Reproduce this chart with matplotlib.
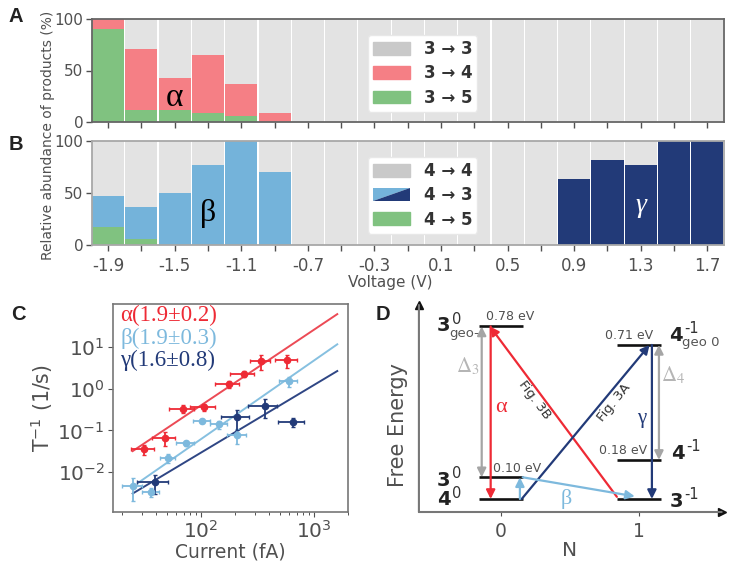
import matplotlib
matplotlib.use("Agg")
import matplotlib.pyplot as plt
from matplotlib.legend_handler import HandlerBase
from matplotlib.patches import Patch, Polygon

W, H = 736, 567

# panels A and B
voltage = [-1.9, -1.7, -1.5, -1.3, -1.1, -0.9, -0.7, -0.5, -0.3, -0.1,
           0.1, 0.3, 0.5, 0.7, 0.9, 1.1, 1.3, 1.5, 1.7]
voltage_ticks = [-1.9, -1.5, -1.1, -0.7, -0.3, 0.1, 0.5, 0.9, 1.3, 1.7]
a_green = [90, 12, 12, 9, 6, 0, 0, 0, 0, 0, 0, 0, 0, 0, 0, 0, 0, 0, 0]
a_red = [10, 59, 31, 56, 31, 9, 0, 0, 0, 0, 0, 0, 0, 0, 0, 0, 0, 0, 0]
b_green = [17, 6, 0, 0, 0, 0, 0, 0, 0, 0, 0, 0, 0, 0, 0, 0, 0, 0, 0]
b_light = [30, 31, 50, 77, 100, 70, 0, 0, 0, 0, 0, 0, 0, 0, 0, 0, 0, 0, 0]
b_dark = [0, 0, 0, 0, 0, 0, 0, 0, 0, 0, 0, 0, 0, 0, 63, 82, 77, 100, 100]

# panel C
alpha_x = [31, 47.7, 69, 106, 175, 239, 340, 581]
alpha_xerr = [7, 11, 17, 26, 42, 58, 70, 130]
alpha_y = [0.036, 0.067, 0.325, 0.363, 1.26, 2.27, 4.55, 4.8]
alpha_yerr = [0.01, 0.025, 0.07, 0.07, 0.25, 0.4, 1.8, 1.7]
beta_x = [25, 36, 51, 73, 102, 145, 208, 597]
beta_xerr = [5, 6, 8, 13, 18, 26, 40, 110]
beta_y = [0.0046, 0.0034, 0.022, 0.05, 0.171, 0.14, 0.078, 1.49]
beta_yerr = [0.0025, 0.0008, 0.005, 0.007, 0.02, 0.03, 0.03, 0.4]
gamma_x = [39, 209, 368, 647]
gamma_xerr = [12, 58, 105, 170]
gamma_y = [0.0058, 0.205, 0.377, 0.159]
gamma_yerr = [0.0028, 0.1, 0.18, 0.04]
fit_x = [24.8, 1607]
alpha_fit = [0.032, 60]
beta_fit_x = [27.5, 1607]
beta_fit = [0.0055, 11.4]
gamma_fit = [0.0031, 2.62]

# panel D, energies in eV
levels_n0 = [0.0, 0.10, 0.795]
levels_n1 = [0.0, 0.18, 0.71]

GREY = "#e3e3e3"
LEG_GREY = "#c9c9c9"
GREEN = "#80c280"
PINK = "#f57f85"
LIGHT = "#74b3da"
NAVY = "#223a78"
RED = "#ee2a35"
TXT = "#505050"
SERIF = ["Liberation Serif", "DejaVu Serif"]


def add_axes(fig, left, top, right, bottom):
    return fig.add_axes([left / W, 1 - bottom / H, (right - left) / W, (bottom - top) / H])


class SplitHandler(HandlerBase):
    def create_artists(self, legend, orig, xd, yd, w, h, fontsize, trans):
        x0, y0 = -xd, -yd
        lo = Polygon([(x0, y0), (x0, y0 + h), (x0 + w, y0 + h)], fc=LIGHT, ec="none", transform=trans)
        up = Polygon([(x0, y0), (x0 + w, y0), (x0 + w, y0 + h)], fc=NAVY, ec="none", transform=trans)
        return [lo, up]


def style_bar_axes(ax, spine):
    ax.set_xlim(-2.0, 1.8)
    ax.set_ylim(0, 100)
    ax.set_yticks([0, 50, 100])
    ax.set_xticks(voltage, minor=False)
    ax.tick_params(axis="y", labelsize=11, colors=TXT, length=4, width=1, pad=2)
    ax.tick_params(axis="x", colors=TXT, length=4, width=1)
    for s in ax.spines.values():
        s.set_color(spine)
        s.set_linewidth(1.3)


def add_legend(ax, handles, labels, y_top, **kw):
    return ax.legend(handles, labels, loc="upper left",
                     bbox_to_anchor=(368 / W, 1 - y_top / H), bbox_transform=ax.figure.transFigure,
                     borderaxespad=0, prop={"weight": "bold", "size": 12}, labelcolor="#333333",
                     handlelength=2.2, handleheight=0.8, handletextpad=0.84, labelspacing=0.38,
                     borderpad=0.3, framealpha=1, fancybox=True, edgecolor="#e8e8e8", **kw)


def level_label(ax, n, e, digit, sup, sub=None):
    ax.text(n, e, digit, fontsize=14, fontweight="bold", color="#222222", ha="left", va="baseline")
    ax.text(n + 0.108, e + 0.036, sup, fontsize=10.5, color="#333333", ha="left", va="baseline")
    if sub:
        ax.text(n + 0.09, e - 0.024, sub, fontsize=9.5, color="#555555", ha="left", va="baseline")


def arrow(ax, start, end, color, style="-|>", lw=1.6):
    ax.annotate("", xy=end, xytext=start,
                arrowprops=dict(arrowstyle=style, color=color, lw=lw, shrinkA=0, shrinkB=0,
                                mutation_scale=13))


def main():
    fig = plt.figure(figsize=(W / 100, H / 100), dpi=100)

    # A
    ax = add_axes(fig, 91.5, 19, 724, 122)
    ax.bar(voltage, [100] * 19, width=0.193, color=GREY)
    ax.bar(voltage, a_green, width=0.193, color=GREEN)
    ax.bar(voltage, a_red, width=0.193, bottom=a_green, color=PINK)
    style_bar_axes(ax, "#666666")
    ax.set_xticklabels([])
    ax.text(-1.5, 24, "α", fontsize=24, family=SERIF, color="black", ha="center", va="center")
    add_legend(ax, [Patch(color=LEG_GREY), Patch(color=PINK), Patch(color=GREEN)],
               ["3 → 3", "3 → 4", "3 → 5"], 35)

    # B
    ax = add_axes(fig, 91.5, 141, 724, 245)
    ax.bar(voltage, [100] * 19, width=0.193, color=GREY)
    ax.bar(voltage, b_green, width=0.193, color=GREEN)
    ax.bar(voltage, b_light, width=0.193, bottom=b_green, color=LIGHT)
    ax.bar(voltage, b_dark, width=0.193, color=NAVY)
    style_bar_axes(ax, "#a8a8a8")
    ax.set_xticks(voltage_ticks)
    ax.set_xticks(voltage, minor=True)
    ax.tick_params(axis="x", which="minor", colors=TXT, length=4, width=1)
    ax.tick_params(axis="x", labelsize=12, pad=5)
    ax.set_xticklabels([f"{v:.1f}" for v in voltage_ticks])
    ax.text(-1.3, 30, "β", fontsize=23, family=SERIF, color="black", ha="center", va="center")
    ax.text(1.3, 38, "γ", fontsize=20, family=SERIF, style="italic", color="white", ha="center", va="center")
    split = Patch()
    add_legend(ax, [Patch(color=LEG_GREY), split, Patch(color=GREEN)], ["4 → 4", "4 → 3", "4 → 5"], 157,
               handler_map={split: SplitHandler()})

    fig.text(48 / W, 1 - 135 / H, "Relative abundance of products (%)", rotation=90,
             fontsize=10, color=TXT, ha="center", va="center")
    fig.text(390 / W, 1 - 283 / H, "Voltage (V)", fontsize=11, color=TXT, ha="center", va="center")

    # C
    ax = add_axes(fig, 113, 304, 348, 512)
    ax.set_xscale("log")
    ax.set_yscale("log")
    ax.plot(fit_x, alpha_fit, color="#ec4a55", lw=1.4)
    ax.plot(beta_fit_x, beta_fit, color="#86c0e0", lw=1.4)
    ax.plot(fit_x, gamma_fit, color="#2f4684", lw=1.4)
    for xs, ys, xe, ye, col in [(beta_x, beta_y, beta_xerr, beta_yerr, "#7db9dd"),
                                (gamma_x, gamma_y, gamma_xerr, gamma_yerr, NAVY),
                                (alpha_x, alpha_y, alpha_xerr, alpha_yerr, RED)]:
        ax.errorbar(xs, ys, xerr=xe, yerr=ye, fmt="o", ms=4.5, color=col, elinewidth=1.3, capsize=1.2)
    ax.set_xlim(16.6, 2000)
    ax.set_ylim(10 ** -2.95, 10 ** 2.02)
    ax.set_yticks([0.01, 0.1, 1, 10])
    ax.minorticks_off()
    ax.set_xticks([20, 30, 40, 50, 60, 70, 80, 90, 200, 300, 400, 500, 600, 700, 800, 900, 2000], minor=True)
    ax.tick_params(axis="x", which="minor", length=2, width=0.7, labelbottom=False, colors=TXT)
    ax.tick_params(axis="both", which="major", labelsize=14.5, colors=TXT, length=3.5, pad=2.5)
    for s in ax.spines.values():
        s.set_color("#777777")
        s.set_linewidth(1.2)
    ax.set_xlabel("Current (fA)", fontsize=13.5, color=TXT, labelpad=0)
    ax.set_ylabel("T$^{-1}$ (1/s)", fontsize=14.8, color=TXT, labelpad=2)
    for y, label, col in [(0.945, "α(1.9±0.2)", RED), (0.836, "β(1.9±0.3)", "#7db9dd"),
                          (0.728, "γ(1.6±0.8)", NAVY)]:
        ax.text(0.03, y, label, transform=ax.transAxes, fontsize=16.5, family=SERIF, color=col,
                ha="left", va="center")

    # D
    ax = add_axes(fig, 417.7, 305, 721.7, 512)
    ax.set_xlim(-0.604, 1.6)
    ax.set_ylim(-0.06, 0.894)
    ax.set_xticks([0, 1])
    ax.set_yticks([])
    ax.tick_params(axis="x", labelsize=13.5, colors=TXT, length=3, pad=4)
    for s in ax.spines.values():
        s.set_visible(False)
    ax.patch.set_alpha(0)
    ax.annotate("", xy=(1.0, 0), xytext=(0.004, 0), xycoords="axes fraction",
                arrowprops=dict(arrowstyle="-", color="#777777", lw=1.5, shrinkA=0, shrinkB=0))
    ax.annotate("", xy=(0.004, 1.0), xytext=(0.004, 0), xycoords="axes fraction",
                arrowprops=dict(arrowstyle="-", color="#777777", lw=1.5, shrinkA=0, shrinkB=0))
    ax.plot([1.0], [0], ">", color="#111111", ms=6, transform=ax.transAxes, clip_on=False)
    ax.plot([0.004], [1.0], "^", color="#111111", ms=6, transform=ax.transAxes, clip_on=False)
    ax.set_xlabel("N", fontsize=14.5, color=TXT, labelpad=0)
    fig.text(398 / W, 1 - 425 / H, "Free Energy", rotation=90, fontsize=15, color=TXT, ha="center", va="center")

    ax.hlines(levels_n0, -0.16, 0.16, color="#111111", lw=1.9)
    ax.hlines(levels_n1, 0.84, 1.16, color="#111111", lw=1.9)

    arrow(ax, (-0.14, 0.795), (-0.14, 0.10), "#a5a5a5", "<|-|>")
    arrow(ax, (1.145, 0.71), (1.145, 0.18), "#a5a5a5", "<|-|>")
    arrow(ax, (-0.075, 0.795), (-0.075, 0.0), RED)
    arrow(ax, (0.84, 0.01), (-0.08, 0.795), RED)
    arrow(ax, (0.15, 0.0), (1.077, 0.71), NAVY)
    arrow(ax, (1.094, 0.71), (1.094, 0.0), NAVY)
    arrow(ax, (0.137, 0.0), (0.137, 0.10), "#7db9dd")
    arrow(ax, (0.157, 0.10), (0.97, 0.012), "#7db9dd")

    ax.text(0.065, 0.84, "0.78 eV", fontsize=9, color=TXT, ha="center", va="center")
    ax.text(0.93, 0.755, "0.71 eV", fontsize=9, color=TXT, ha="center", va="center")
    ax.text(0.884, 0.223, "0.18 eV", fontsize=9, color=TXT, ha="center", va="center")
    ax.text(0.113, 0.142, "0.10 eV", fontsize=9, color=TXT, ha="center", va="center")
    ax.text(0.246, 0.457, "Fig. 3B", fontsize=9.5, rotation=-53, color="#333333", ha="center", va="center")
    ax.text(0.82, 0.445, "Fig. 3A", fontsize=9.5, rotation=51, color="#333333", ha="center", va="center")

    level_label(ax, -0.465, 0.772, "3", "0", "geo-")
    level_label(ax, -0.465, 0.062, "3", "0")
    level_label(ax, -0.465, -0.03, "4", "0")
    level_label(ax, 1.222, 0.73, "4", "-1", "geo 0")
    level_label(ax, 1.235, 0.185, "4", "-1")
    level_label(ax, 1.222, -0.035, "3", "-1")

    ax.text(0.0, 0.42, "α", fontsize=16, family=SERIF, color=RED, ha="center", va="center")
    ax.text(1.02, 0.37, "γ", fontsize=15, family=SERIF, color=NAVY, ha="center", va="center")
    ax.text(0.47, 0.0, "β", fontsize=16, family=SERIF, color="#7db9dd", ha="center", va="center")
    ax.text(-0.24, 0.614, r"$\Delta_3$", fontsize=15, math_fontfamily="stix", color="#b5b5b5", ha="center", va="center")
    ax.text(1.246, 0.572, r"$\Delta_4$", fontsize=15, math_fontfamily="stix", color="#b5b5b5", ha="center", va="center")

    # panel letters
    for label, x, y in [("A", 16, 17), ("B", 16, 144), ("C", 18, 314), ("D", 383, 314)]:
        fig.text(x / W, 1 - y / H, label, fontsize=14.5, fontweight="bold", color="#222222",
                 family=["Liberation Sans Narrow", "Liberation Sans"], ha="center", va="center")

    fig.savefig("out.png", dpi=100)


if __name__ == "__main__":
    main()
